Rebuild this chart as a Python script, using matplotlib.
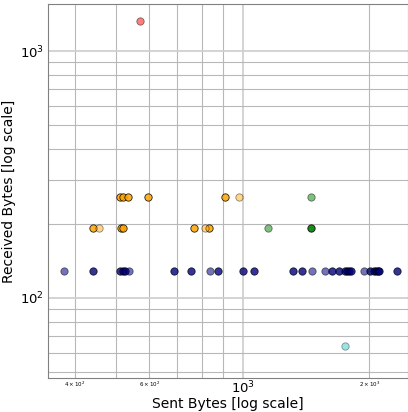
import matplotlib
matplotlib.use("Agg")
import matplotlib.pyplot as plt

# bytes sent / received per flow, and the group each flow belongs to
sent = [441, 512.8, 519.4, 526.3, 688.8, 754.6, 875.8, 1004, 1067, 1316, 1380,
        1632, 1695, 1751, 1771, 1790, 1807, 2008, 2052, 2075, 2097, 2112, 2326,
        376.5, 535.9, 835, 1463, 1568, 1943,
        441, 514.8, 519.4, 768.4, 834,
        455.7, 816,
        512.8, 519.4, 534.6, 597.6, 909.9,
        978.4,
        1457,
        1146, 1457,
        569,
        1754]
received = [128] * 23 + [128] * 6 + [192] * 5 + [192] * 2 + [256] * 5 + [256] + \
           [192] + [192, 256] + [1323] + [64]
group = ["blue"] * 23 + ["blue_light"] * 6 + ["orange"] * 5 + ["orange_light"] * 2 + \
        ["orange"] * 5 + ["orange_light"] + ["green"] + ["green_light"] * 2 + \
        ["red"] + ["cyan"]

styles = {
    "blue": ("navy", 0.8),
    "blue_light": ("navy", 0.55),
    "orange": ("orange", 0.85),
    "orange_light": ("orange", 0.45),
    "green": ("green", 0.9),
    "green_light": ("green", 0.5),
    "red": ("red", 0.5),
    "cyan": ("c", 0.4),
}

fig = plt.figure(figsize=(4.08, 4.12), dpi=100)
ax = fig.add_axes([48 / 408, 34 / 412, 360 / 408, 374 / 412])

for g, (col, a) in styles.items():
    xs = [s for s, k in zip(sent, group) if k == g]
    ys = [r for r, k in zip(received, group) if k == g]
    ax.scatter(xs, ys, s=28, color=col, alpha=a, edgecolors="black",
               linewidths=0.6, zorder=3)

ax.set_xscale("log")
ax.set_yscale("log")
ax.set_xlim(345, 2470)
ax.set_ylim(47.4, 1550)

ax.grid(True, which="major", color="#d0d0d0", linewidth=1.3, zorder=0)
ax.grid(True, which="minor", color="#b8b8b8", linewidth=0.8, zorder=0)
ax.tick_params(which="both", length=0, pad=3)
ax.tick_params(axis="x", which="both", pad=1.5)
ax.tick_params(which="major", labelsize=9.5)
ax.tick_params(which="minor", labelsize=4)

for sp in ax.spines.values():
    sp.set_color("#808080")

ax.set_xlabel("Sent Bytes [log scale]", fontsize=10, labelpad=0)
ax.set_ylabel("Received Bytes [log scale]", fontsize=10, labelpad=3)

fig.savefig("out.png", dpi=100)
